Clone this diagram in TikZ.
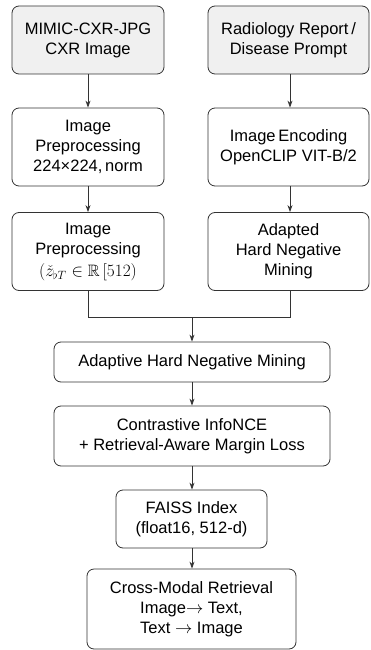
\documentclass[tikz,border=0pt]{standalone}
\usepackage{amssymb}
\usepackage{fontspec}
\setmainfont{Liberation Sans}
\usetikzlibrary{arrows.meta}
\begin{document}
\begin{tikzpicture}[x=1pt,y=-1pt,
  box/.style={draw=black!80,line width=0.8pt,rounded corners=7pt,align=center,
    font=\fontsize{16.5}{20}\selectfont,inner sep=0pt},
  topbox/.style={box,fill=black!6},
  arr/.style={draw=black!80,line width=0.8pt,-{Stealth[length=7pt,width=5pt]}},
  ln/.style={draw=black!80,line width=0.8pt}]
\useasboundingbox (0,0) rectangle (370,650);
\node[topbox,minimum width=152pt,minimum height=68pt] (a) at (88,40) {MIMIC-CXR-JPG\\CXR Image};
\node[topbox,minimum width=161pt,minimum height=68pt] (b) at (288.5,40) {Radiology Report\,/\\Disease Prompt};
\node[box,minimum width=152pt,minimum height=78pt] (c) at (88,147) {Image\\Preprocessing\\224\texttimes224,\,norm};
\node[box,minimum width=161pt,minimum height=78pt] (d) at (288.5,147) {Image\,Encoding\\OpenCLIP VIT-B/2};
\node[box,minimum width=152pt,minimum height=78pt] (e) at (88,251.5) {Image\\Preprocessing\\[2pt]$(\check{z}_{\flat T} \in \mathbb{R}\,[512)$};
\node[box,minimum width=161pt,minimum height=78pt] (f) at (288.5,251.5) {Adapted\\Hard Negative\\Mining};
\node[box,minimum width=276pt,minimum height=40pt] (g) at (192,362) {Adaptive Hard Negative Mining};
\node[box,minimum width=276pt,minimum height=60pt] (h) at (192,436) {Contrastive InfoNCE\\+ Retrieval-Aware Margin Loss};
\node[box,minimum width=151pt,minimum height=58pt] (i) at (191.5,519) {FAISS Index\\(float16, 512-d)};
\node[box,minimum width=209pt,minimum height=80pt] (j) at (191.5,609) {Cross-Modal Retrieval\\Image$\rightarrow$ Text,\\Text $\rightarrow$ Image};
\coordinate (m) at (192,317);
\draw[arr] (a) -- (c);
\draw[arr] (b.south -| 290,0) -- (d.north -| 290,0);
\draw[arr] (c) -- (e);
\draw[arr] (d.south -| 290,0) -- (f.north -| 290,0);
\draw[ln] (e.south) |- (m);
\draw[ln] (f.south -| 290,0) |- (m);
\draw[arr] (m) -- (g.north -| m);
\draw[arr] (g.south -| m) -- (h.north -| m);
\draw[arr] (h.south -| m) -- (i.north -| m);
\draw[arr] (i.south -| m) -- (j.north -| m);
\end{tikzpicture}
\end{document}
